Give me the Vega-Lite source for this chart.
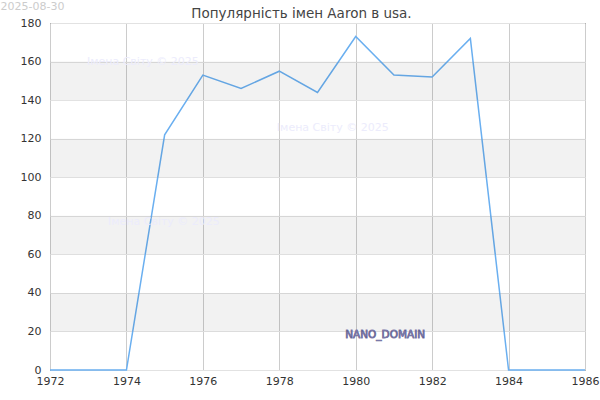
{
  "$schema": "https://vega.github.io/schema/vega-lite/v6.json",
  "autosize": "none",
  "width": 535,
  "height": 347,
  "padding": {"left": 50, "top": 23, "right": 15, "bottom": 30},
  "background": "white",
  "title": {
    "text": "Популярність імен Aaron в usa.",
    "fontSize": 13.5,
    "fontWeight": "normal",
    "color": "#444444",
    "font": "DejaVu Sans",
    "offset": 5,
    "dx": -16,
    "dy": 25
  },
  "config": {
    "font": "DejaVu Sans",
    "view": {"stroke": "black", "strokeWidth": 1},
    "axis": {
      "labelFont": "DejaVu Sans",
      "labelFontSize": 11,
      "labelColor": "#333333",
      "domain": false,
      "ticks": false
    },
    "axisY": {
      "labelOverlap": false,
      "labelSeparation": 0,
      "tickCount": 9,
      "gridColor": "#e2e2e2",
      "labelPadding": 9
    }
  },
  "datasets": {
    "series": [
      {"year": 1972, "count": 0},
      {"year": 1973, "count": 0},
      {"year": 1974, "count": 0},
      {"year": 1975, "count": 122},
      {"year": 1976, "count": 153},
      {"year": 1977, "count": 146},
      {"year": 1978, "count": 155},
      {"year": 1979, "count": 144},
      {"year": 1980, "count": 173},
      {"year": 1981, "count": 153},
      {"year": 1982, "count": 152},
      {"year": 1983, "count": 172},
      {"year": 1984, "count": 0},
      {"year": 1985, "count": 0},
      {"year": 1986, "count": 0}
    ],
    "bands": [
      {"lo": 20, "hi": 40},
      {"lo": 60, "hi": 80},
      {"lo": 100, "hi": 120},
      {"lo": 140, "hi": 160}
    ],
    "marks": [
      {"year": 1974.43, "count": 159.8, "label": "Імена Світу © 2025"},
      {"year": 1979.4, "count": 125.5, "label": "Імена Світу © 2025"},
      {"year": 1974.98, "count": 76.8, "label": "Імена Світу © 2025"}
    ],
    "brand": [
      {"year": 1980.77, "count": 18, "label": "NANO_DOMAIN"}
    ]
  },
  "layer": [
    {
      "data": {"name": "series"},
      "mark": {"type": "line", "color": "#6aaff0", "strokeWidth": 1.5},
      "encoding": {
        "x": {
          "field": "year", "type": "quantitative",
          "scale": {"domain": [1972, 1986], "nice": false},
          "axis": {
            "title": null, "values": [1972, 1974, 1976, 1978, 1980, 1982, 1984, 1986],
            "format": "d", "gridColor": "#cccccc", "labelPadding": 5, "labelFlush": false
          }
        },
        "y": {
          "field": "count", "type": "quantitative",
          "scale": {"domain": [0, 180], "nice": false},
          "axis": {
            "title": "2025-08-30", "titleAngle": 0, "titleAlign": "left", "titleBaseline": "top",
            "titleX": -50, "titleY": -23, "titleColor": "#cccccc", "titleFontWeight": "normal",
            "titleFontSize": 11, "titleFont": "DejaVu Sans"
          }
        }
      }
    },
    {
      "data": {"name": "bands"},
      "mark": {"type": "rect", "color": "#000000", "opacity": 0.05},
      "encoding": {
        "y": {"field": "lo", "type": "quantitative"},
        "y2": {"field": "hi"}
      }
    },
    {
      "data": {"name": "marks"},
      "mark": {"type": "text", "color": "#ececfc", "fontSize": 11, "align": "center", "baseline": "middle"},
      "encoding": {
        "x": {"field": "year", "type": "quantitative"},
        "y": {"field": "count", "type": "quantitative"},
        "text": {"field": "label"}
      }
    },
    {
      "data": {"name": "brand"},
      "mark": {"type": "text", "color": "#1c1a4a", "stroke": "#7a78a8", "strokeWidth": 0.8, "fontSize": 10.5, "fontWeight": "normal", "align": "center", "baseline": "middle"},
      "encoding": {
        "x": {"field": "year", "type": "quantitative"},
        "y": {"field": "count", "type": "quantitative"},
        "text": {"field": "label"}
      }
    }
  ]
}
